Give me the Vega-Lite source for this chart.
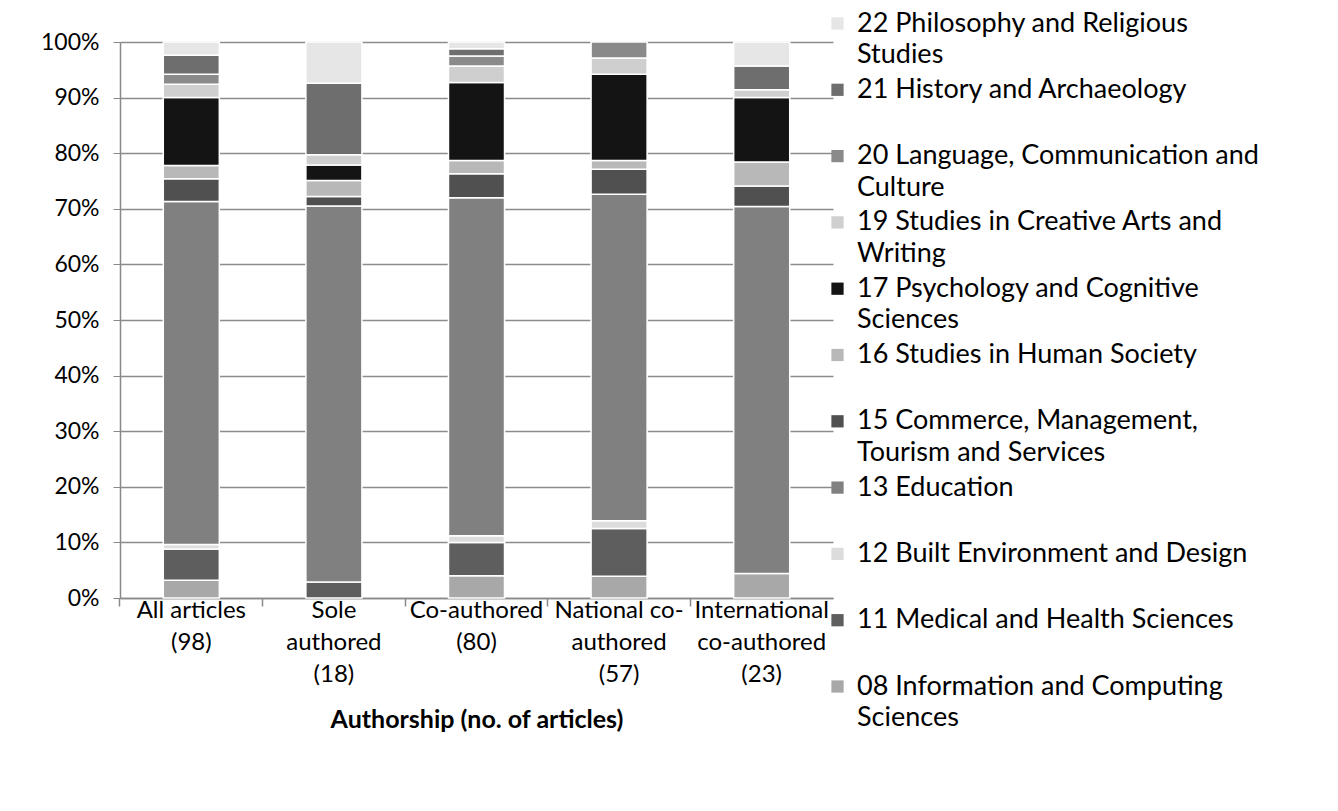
{
  "$schema": "https://vega.github.io/schema/vega-lite/v6.json",
  "width": 713,
  "height": 556,
  "autosize": "none",
  "padding": {"left": 120, "top": 42, "right": 505, "bottom": 213},
  "background": "white",
  "config": {
    "font": "Lato",
    "view": {"stroke": null},
    "axis": {"labelColor": "#000", "titleColor": "#000", "labelFont": "Lato", "titleFont": "Lato"},
    "legend": {"labelFont": "Lato"},
    "style": {"guide-label": {"lineHeight": 31.5}}
  },
  "data": {
    "values": [
      {"group": "All articles (98)", "field": "08 Information and Computing Sciences", "code": 8, "pct": 3.2},
      {"group": "All articles (98)", "field": "11 Medical and Health Sciences", "code": 11, "pct": 5.6},
      {"group": "All articles (98)", "field": "12 Built Environment and Design", "code": 12, "pct": 0.8},
      {"group": "All articles (98)", "field": "13 Education", "code": 13, "pct": 61.7},
      {"group": "All articles (98)", "field": "15 Commerce, Management, Tourism and Services", "code": 15, "pct": 4.1},
      {"group": "All articles (98)", "field": "16 Studies in Human Society", "code": 16, "pct": 2.4},
      {"group": "All articles (98)", "field": "17 Psychology and Cognitive Sciences", "code": 17, "pct": 12.2},
      {"group": "All articles (98)", "field": "19 Studies in Creative Arts and Writing", "code": 19, "pct": 2.4},
      {"group": "All articles (98)", "field": "20 Language, Communication and Culture", "code": 20, "pct": 1.8},
      {"group": "All articles (98)", "field": "21 History and Archaeology", "code": 21, "pct": 3.4},
      {"group": "All articles (98)", "field": "22 Philosophy and Religious Studies", "code": 22, "pct": 2.4},
      {"group": "Sole authored (18)", "field": "11 Medical and Health Sciences", "code": 11, "pct": 2.9},
      {"group": "Sole authored (18)", "field": "13 Education", "code": 13, "pct": 67.6},
      {"group": "Sole authored (18)", "field": "15 Commerce, Management, Tourism and Services", "code": 15, "pct": 1.7},
      {"group": "Sole authored (18)", "field": "16 Studies in Human Society", "code": 16, "pct": 2.9},
      {"group": "Sole authored (18)", "field": "17 Psychology and Cognitive Sciences", "code": 17, "pct": 2.8},
      {"group": "Sole authored (18)", "field": "19 Studies in Creative Arts and Writing", "code": 19, "pct": 1.8},
      {"group": "Sole authored (18)", "field": "21 History and Archaeology", "code": 21, "pct": 12.9},
      {"group": "Sole authored (18)", "field": "22 Philosophy and Religious Studies", "code": 22, "pct": 7.4},
      {"group": "Co-authored (80)", "field": "08 Information and Computing Sciences", "code": 8, "pct": 4.0},
      {"group": "Co-authored (80)", "field": "11 Medical and Health Sciences", "code": 11, "pct": 6.0},
      {"group": "Co-authored (80)", "field": "12 Built Environment and Design", "code": 12, "pct": 1.2},
      {"group": "Co-authored (80)", "field": "13 Education", "code": 13, "pct": 60.8},
      {"group": "Co-authored (80)", "field": "15 Commerce, Management, Tourism and Services", "code": 15, "pct": 4.3},
      {"group": "Co-authored (80)", "field": "16 Studies in Human Society", "code": 16, "pct": 2.4},
      {"group": "Co-authored (80)", "field": "17 Psychology and Cognitive Sciences", "code": 17, "pct": 14.0},
      {"group": "Co-authored (80)", "field": "19 Studies in Creative Arts and Writing", "code": 19, "pct": 3.0},
      {"group": "Co-authored (80)", "field": "20 Language, Communication and Culture", "code": 20, "pct": 1.8},
      {"group": "Co-authored (80)", "field": "21 History and Archaeology", "code": 21, "pct": 1.3},
      {"group": "Co-authored (80)", "field": "22 Philosophy and Religious Studies", "code": 22, "pct": 1.2},
      {"group": "National co-authored (57)", "field": "08 Information and Computing Sciences", "code": 8, "pct": 3.9},
      {"group": "National co-authored (57)", "field": "11 Medical and Health Sciences", "code": 11, "pct": 8.6},
      {"group": "National co-authored (57)", "field": "12 Built Environment and Design", "code": 12, "pct": 1.4},
      {"group": "National co-authored (57)", "field": "13 Education", "code": 13, "pct": 58.7},
      {"group": "National co-authored (57)", "field": "15 Commerce, Management, Tourism and Services", "code": 15, "pct": 4.5},
      {"group": "National co-authored (57)", "field": "16 Studies in Human Society", "code": 16, "pct": 1.6},
      {"group": "National co-authored (57)", "field": "17 Psychology and Cognitive Sciences", "code": 17, "pct": 15.5},
      {"group": "National co-authored (57)", "field": "19 Studies in Creative Arts and Writing", "code": 19, "pct": 2.9},
      {"group": "National co-authored (57)", "field": "20 Language, Communication and Culture", "code": 20, "pct": 2.9},
      {"group": "International co-authored (23)", "field": "08 Information and Computing Sciences", "code": 8, "pct": 4.4},
      {"group": "International co-authored (23)", "field": "13 Education", "code": 13, "pct": 66.0},
      {"group": "International co-authored (23)", "field": "15 Commerce, Management, Tourism and Services", "code": 15, "pct": 3.7},
      {"group": "International co-authored (23)", "field": "16 Studies in Human Society", "code": 16, "pct": 4.3},
      {"group": "International co-authored (23)", "field": "17 Psychology and Cognitive Sciences", "code": 17, "pct": 11.6},
      {"group": "International co-authored (23)", "field": "19 Studies in Creative Arts and Writing", "code": 19, "pct": 1.4},
      {"group": "International co-authored (23)", "field": "21 History and Archaeology", "code": 21, "pct": 4.3},
      {"group": "International co-authored (23)", "field": "22 Philosophy and Religious Studies", "code": 22, "pct": 4.3}
    ]
  },
  "layer": [
    {
      "mark": {"type": "bar", "stroke": "white", "strokeWidth": 1.5},
      "encoding": {
        "x": {
          "field": "group",
          "type": "nominal",
          "sort": ["All articles (98)", "Sole authored (18)", "Co-authored (80)", "National co-authored (57)", "International co-authored (23)"],
          "scale": {"paddingInner": 0.607, "paddingOuter": 0.3035},
          "axis": {
            "title": "Authorship (no. of articles)",
            "titleFontSize": 25,
            "titleFontWeight": "bold",
            "titlePadding": 21,
            "labelAngle": 0,
            "labelFontSize": 24,
            "labelLineHeight": 32,
            "labelPadding": 0,
            "labelBaseline": "top",
            "labelLimit": 300,
            "ticks": false,
            "domainColor": "#888888",
            "domainWidth": 1.5,
            "labelExpr": "({'All articles (98)': ['All articles', '(98)'], 'Sole authored (18)': ['Sole', 'authored', '(18)'], 'Co-authored (80)': ['Co-authored', '(80)'], 'National co-authored (57)': ['National co-', 'authored', '(57)'], 'International co-authored (23)': ['International', 'co-authored', '(23)']})[datum.label]"
          }
        },
        "y": {
          "field": "pct",
          "type": "quantitative",
          "stack": "normalize",
          "scale": {"domain": [0, 1]},
          "axis": {
            "title": null,
            "format": ".0%",
            "values": [0, 0.1, 0.2, 0.3, 0.4, 0.5, 0.6, 0.7, 0.8, 0.9, 1],
            "labelFontSize": 23,
            "labelPadding": 14,
            "tickSize": 7,
            "tickColor": "#888888",
            "domainColor": "#888888",
            "domainWidth": 1.5,
            "gridColor": "#8c8c8c",
            "gridWidth": 1.3
          }
        },
        "color": {
          "field": "field",
          "type": "nominal",
          "scale": {
            "domain": [
              "22 Philosophy and Religious Studies",
              "21 History and Archaeology",
              "20 Language, Communication and Culture",
              "19 Studies in Creative Arts and Writing",
              "17 Psychology and Cognitive Sciences",
              "16 Studies in Human Society",
              "15 Commerce, Management, Tourism and Services",
              "13 Education",
              "12 Built Environment and Design",
              "11 Medical and Health Sciences",
              "08 Information and Computing Sciences"
            ],
            "range": ["#e6e6e6", "#6e6e6e", "#8a8a8a", "#cfcfcf", "#141414", "#b8b8b8", "#505050", "#808080", "#dcdcdc", "#5e5e5e", "#a8a8a8"]
          },
          "legend": {
            "title": null,
            "orient": "none",
            "legendX": 704,
            "legendY": -32,
            "symbolType": "square",
            "symbolSize": 150,
            "symbolStrokeWidth": 0,
            "labelFontSize": 27,
            "labelLimit": 600,
            "labelOffset": 6,
            "rowPadding": 7.3,
            "labelExpr": "({'22 Philosophy and Religious Studies': ['22 Philosophy and Religious', 'Studies'], '21 History and Archaeology': ['21 History and Archaeology', ' '], '20 Language, Communication and Culture': ['20 Language, Communication and', 'Culture'], '19 Studies in Creative Arts and Writing': ['19 Studies in Creative Arts and', 'Writing'], '17 Psychology and Cognitive Sciences': ['17 Psychology and Cognitive', 'Sciences'], '16 Studies in Human Society': ['16 Studies in Human Society', ' '], '15 Commerce, Management, Tourism and Services': ['15 Commerce, Management,', 'Tourism and Services'], '13 Education': ['13 Education', ' '], '12 Built Environment and Design': ['12 Built Environment and Design', ' '], '11 Medical and Health Sciences': ['11 Medical and Health Sciences', ' '], '08 Information and Computing Sciences': ['08 Information and Computing', 'Sciences']})[datum.label]"
          }
        },
        "order": {"field": "code", "type": "quantitative", "sort": "ascending"}
      }
    },
    {
      "mark": {"type": "rule", "opacity": 0},
      "encoding": {
        "x": {
          "field": "group",
          "type": "nominal",
          "sort": ["All articles (98)", "Sole authored (18)", "Co-authored (80)", "National co-authored (57)", "International co-authored (23)"],
          "axis": {
            "orient": "bottom",
            "title": null,
            "labels": false,
            "domain": false,
            "grid": false,
            "ticks": true,
            "tickSize": 8,
            "tickColor": "#888888",
            "tickWidth": 1.5,
            "bandPosition": -0.7735
          }
        }
      }
    }
  ],
  "resolve": {"axis": {"x": "independent"}}
}
